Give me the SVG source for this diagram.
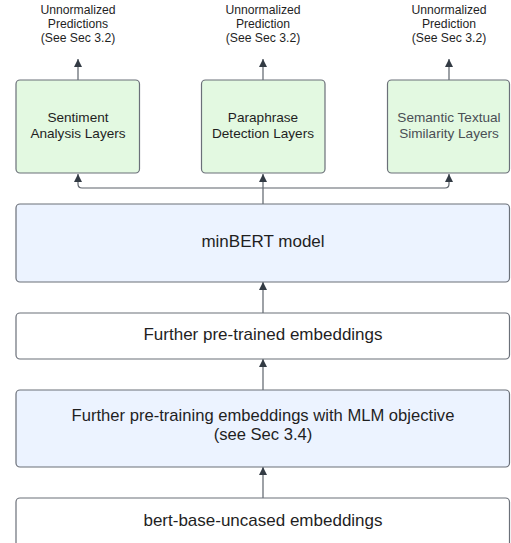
<svg xmlns="http://www.w3.org/2000/svg" width="511" height="543" viewBox="0 0 511 543">
<defs>
<style>
.box{stroke:#6b7079;stroke-width:1.2}
.g{fill:#e3f9e1}
.b{fill:#ecf3ff}
.w{fill:#ffffff}
.t{font-family:"Liberation Sans",Arial,sans-serif;fill:#1f1f1f;text-anchor:middle;dominant-baseline:central}
.s{font-size:12.2px}
.m{font-size:13.6px}
.l{font-size:17px}
.c{fill:none;stroke:#5d636b;stroke-width:1.2}
</style>
<marker id="ah" viewBox="0 0 10 10" refX="10" refY="5" markerWidth="9" markerHeight="8" markerUnits="userSpaceOnUse" orient="auto">
<path d="M0,0 L10,5 L0,10 z" fill="#333b44"/>
</marker>
</defs>
<rect width="511" height="543" fill="#ffffff"/>
<g id="connectors">
<line class="c" x1="78" y1="80" x2="78" y2="59" marker-end="url(#ah)"/>
<line class="c" x1="263" y1="80" x2="263" y2="59" marker-end="url(#ah)"/>
<line class="c" x1="449" y1="80" x2="449" y2="59" marker-end="url(#ah)"/>
<path class="c" d="M263,204 L263,188"/>
<path class="c" d="M263,188 L263,174" marker-end="url(#ah)"/>
<path class="c" d="M263,188 L82,188 Q78,188 78,184 L78,174" marker-end="url(#ah)"/>
<path class="c" d="M263,188 L445,188 Q449,188 449,184 L449,174" marker-end="url(#ah)"/>
<line class="c" x1="263" y1="313" x2="263" y2="282" marker-end="url(#ah)"/>
<line class="c" x1="263" y1="390" x2="263" y2="359" marker-end="url(#ah)"/>
<line class="c" x1="263" y1="498" x2="263" y2="467" marker-end="url(#ah)"/>
</g>
<g id="out1"><text class="t s" x="78" y="10">Unnormalized</text><text class="t s" x="78" y="24">Predictions</text><text class="t s" x="78" y="38">(See Sec 3.2)</text></g>
<g id="out2"><text class="t s" x="263" y="10">Unnormalized</text><text class="t s" x="263" y="24">Prediction</text><text class="t s" x="263" y="38">(See Sec 3.2)</text></g>
<g id="out3"><text class="t s" x="449" y="10">Unnormalized</text><text class="t s" x="449" y="24">Prediction</text><text class="t s" x="449" y="38">(See Sec 3.2)</text></g>
<g id="sentiment"><rect class="box g" x="16" y="80" width="123.5" height="93" rx="4"/><text class="t m" x="78" y="117">Sentiment</text><text class="t m" x="78" y="133.5">Analysis Layers</text></g>
<g id="paraphrase"><rect class="box g" x="201.5" y="80" width="123.5" height="93" rx="4"/><text class="t m" x="263" y="117">Paraphrase</text><text class="t m" x="263" y="133.5">Detection Layers</text></g>
<g id="sts"><rect class="box g" x="387.5" y="80" width="122" height="93" rx="4"/><text class="t m" x="449" y="117" style="fill:#4a4f55">Semantic Textual</text><text class="t m" x="449" y="133.5" style="fill:#4a4f55">Similarity Layers</text></g>
<g id="minbert"><rect class="box b" x="16" y="204" width="493.5" height="78" rx="4"/><text class="t l" x="263" y="241">minBERT model</text></g>
<g id="pretrained"><rect class="box w" x="16" y="313" width="493.5" height="46" rx="4"/><text class="t l" x="263" y="334">Further pre-trained embeddings</text></g>
<g id="mlm"><rect class="box b" x="16" y="390" width="493.5" height="77" rx="4"/><text class="t" x="263" y="415.5" style="font-size:16.6px">Further pre-training embeddings with MLM objective</text><text class="t" x="263" y="434.5" style="font-size:16.6px">(see Sec 3.4)</text></g>
<g id="bert"><rect class="box w" x="16" y="498" width="493.5" height="50" rx="4"/><text class="t l" x="263" y="520">bert-base-uncased embeddings</text></g>
</svg>
